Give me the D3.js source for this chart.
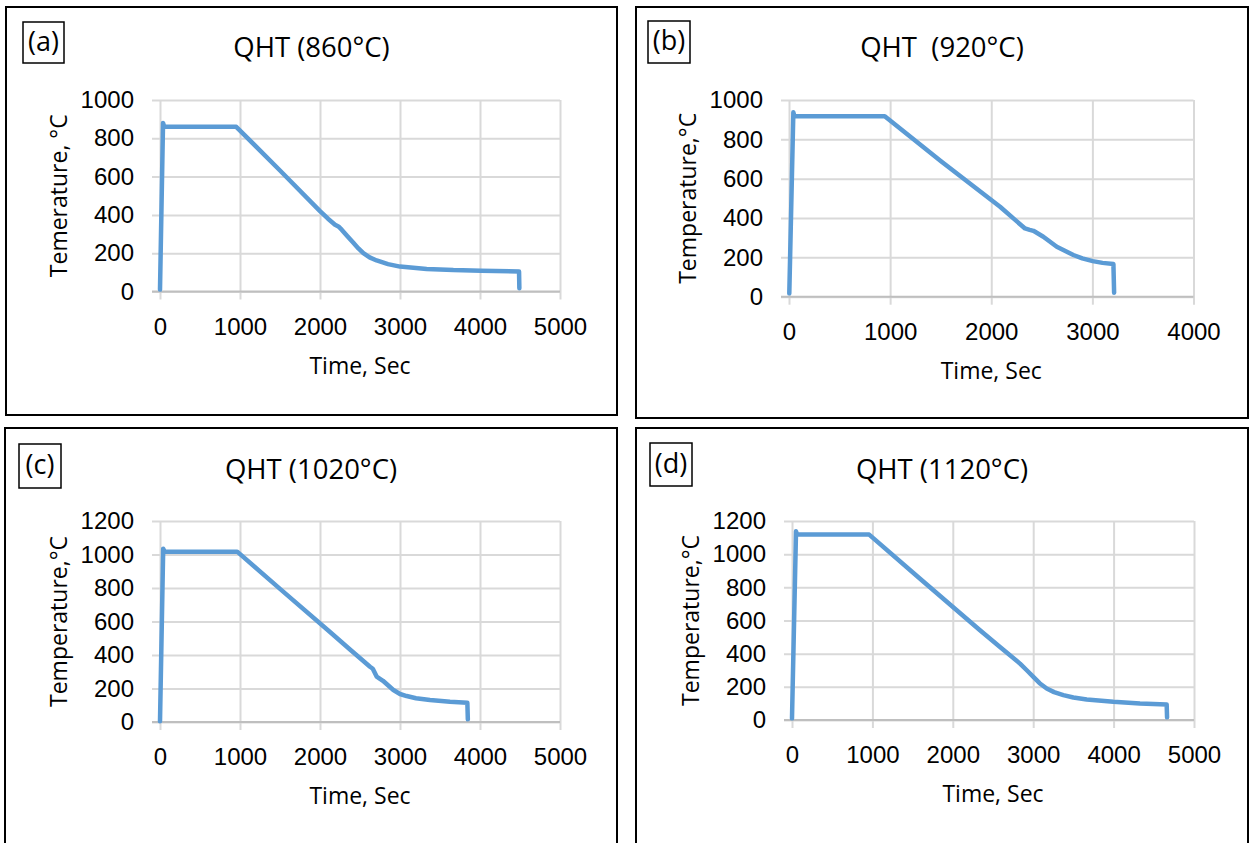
<!DOCTYPE html>
<html>
<head>
<meta charset="utf-8">
<script src="https://cdn.jsdelivr.net/npm/d3@7.9.0/dist/d3.min.js"></script>
<style>
  body { margin: 0; background: #fff; }
  svg { display: block; font-family: "Open Sans", "Noto Sans", sans-serif; }
  text { fill: #000; white-space: pre; }
</style>
</head>
<body>
<div id="chart"></div>
<script>
// panel texts
const panelLabels = ['(a)', '(b)', '(c)', '(d)'];
const panelTitles = ['QHT (860°C)', 'QHT  (920°C)', 'QHT (1020°C)', 'QHT (1120°C)'];
const yTitles = ['Temerature, °C', 'Temperature,°C', 'Temperature,°C', 'Temperature,°C'];
const xTitle = 'Time, Sec';

// axis ticks
const xTicks5000 = [0, 1000, 2000, 3000, 4000, 5000];
const xTicks4000 = [0, 1000, 2000, 3000, 4000];
const yTicks1000 = [0, 200, 400, 600, 800, 1000];
const yTicks1200 = [0, 200, 400, 600, 800, 1000, 1200];

// [time (s), temperature (°C)]
const curve860 = [[0, 10], [38, 880], [50, 865], [62, 860], [500, 860], [953, 860], [1500, 632], [2000, 420],
  [2100, 380], [2188, 349], [2230, 340], [2271, 323], [2340, 290], [2417, 254], [2480, 225], [2542, 200],
  [2620, 178], [2708, 162], [2850, 143], [3000, 130], [3333, 118], [3667, 112], [4013, 109], [4488, 104],
  [4492, 17]];
const curve920 = [[3, 17], [43, 938], [52, 920], [59, 917], [500, 917], [947, 917], [1500, 690], [2087, 457],
  [2219, 398], [2334, 347], [2380, 340], [2417, 335], [2515, 305], [2648, 254], [2812, 212], [2900, 195],
  [3004, 181], [3100, 172], [3208, 166], [3215, 20]];
const curve1020 = [[0, 5], [40, 1035], [55, 1020], [62, 1017], [500, 1017], [965, 1017], [1500, 795],
  [2125, 537], [2375, 433], [2560, 357], [2625, 330], [2660, 318], [2708, 271], [2787, 246], [2917, 191],
  [3000, 167], [3083, 155], [3200, 142], [3375, 131], [3625, 121], [3842, 115], [3848, 16]];
const curve1120 = [[0, 10], [50, 1138], [60, 1122], [70, 1118], [500, 1118], [960, 1118], [1600, 849],
  [2338, 541], [2587, 440], [2836, 340], [2920, 300], [3002, 260], [3080, 222], [3168, 190], [3260, 168],
  [3375, 150], [3500, 136], [3666, 124], [3997, 110], [4328, 100], [4660, 94], [4665, 16]];

const curves = [curve860, curve920, curve1020, curve1120];
const xTickSets = [xTicks5000, xTicks4000, xTicks5000, xTicks5000];
const yTickSets = [yTicks1000, yTicks1000, yTicks1200, yTicks1200];

// layout of each panel on the page
const frames = [
  { box: [6, 7, 617, 415], plot: [160, 560, 100, 291.5], tag: [23, 22, 41, 41], titleY: 57 },
  { box: [636, 7, 1248, 418], plot: [789, 1193.5, 100, 296.7], tag: [648, 21, 42, 42], titleY: 57 },
  { box: [5, 428, 617, 850], plot: [160, 560, 521, 722], tag: [19, 444, 42, 44], titleY: 479 },
  { box: [636, 428, 1248, 850], plot: [792, 1194, 521, 720], tag: [650, 443, 42, 43], titleY: 479 }
];

const width = 1250, height = 843;
const svg = d3.select('#chart').append('svg')
  .attr('width', width).attr('height', height)
  .attr('viewBox', `0 0 ${width} ${height}`);

svg.append('rect').attr('width', width).attr('height', height).attr('fill', '#fff');

frames.forEach((f, i) => {
  const [bx0, by0, bx1, by1] = f.box;
  const [left, right, top, bottom] = f.plot;
  const g = svg.append('g');

  // outer frame
  g.append('rect')
    .attr('x', bx0).attr('y', by0)
    .attr('width', bx1 - bx0).attr('height', by1 - by0)
    .attr('fill', 'none').attr('stroke', '#000').attr('stroke-width', 2);

  // label box
  const [tx, ty, tw, th] = f.tag;
  g.append('rect')
    .attr('x', tx).attr('y', ty).attr('width', tw).attr('height', th)
    .attr('fill', 'none').attr('stroke', '#000').attr('stroke-width', 1.5);
  g.append('text')
    .attr('x', tx + tw / 2).attr('y', ty + th / 2 + 8)
    .attr('text-anchor', 'middle')
    .style('font-size', '27px')
    .text(panelLabels[i]);

  // title, centred on the frame
  g.append('text')
    .attr('x', (bx0 + bx1) / 2).attr('y', f.titleY)
    .attr('text-anchor', 'middle')
    .style('font-size', '27.5px')
    .text(panelTitles[i]);

  const xTicks = xTickSets[i];
  const yTicks = yTickSets[i];
  const x = d3.scaleLinear().domain([0, d3.max(xTicks)]).range([left, right]);
  const y = d3.scaleLinear().domain([0, d3.max(yTicks)]).range([bottom, top]);

  // horizontal gridlines + outside ticks + labels
  const gy = g.append('g')
    .attr('transform', `translate(${right},0)`)
    .call(d3.axisLeft(y).tickValues(yTicks).tickFormat(d3.format('d'))
      .tickSize(right - left + 8).tickPadding(18));
  gy.select('.domain').remove();
  gy.selectAll('line').attr('stroke', '#d9d9d9').attr('stroke-width', 2);
  gy.selectAll('text').style('font-size', '24px').attr('fill', '#000');

  // vertical gridlines + outside ticks + labels
  const gx = g.append('g')
    .attr('transform', `translate(0,${top})`)
    .call(d3.axisBottom(x).tickValues(xTicks).tickFormat(d3.format('d'))
      .tickSize(bottom - top + 8).tickPadding(0));
  gx.select('.domain').remove();
  gx.selectAll('line').attr('stroke', '#d9d9d9').attr('stroke-width', 2);
  gx.selectAll('text')
    .style('font-size', '24px').attr('fill', '#000')
    .attr('dy', null)
    .attr('y', bottom - top + 43);

  // horizontal axis line
  g.append('line')
    .attr('x1', left - 8).attr('x2', right)
    .attr('y1', y(0)).attr('y2', y(0))
    .attr('stroke', '#bfbfbf').attr('stroke-width', 2);

  // axis titles
  g.append('text')
    .attr('x', (left + right) / 2).attr('y', bottom + 82)
    .attr('text-anchor', 'middle')
    .style('font-size', '23px')
    .text(xTitle);
  g.append('text')
    .attr('transform', `translate(${left - 93},${(top + bottom) / 2}) rotate(-90)`)
    .attr('text-anchor', 'middle')
    .style('font-size', '23px')
    .text(yTitles[i]);

  // the curve
  const line = d3.line().x(d => x(d[0])).y(d => y(d[1]));
  g.append('path')
    .datum(curves[i])
    .attr('d', line)
    .attr('fill', 'none')
    .attr('stroke', '#5b9bd5')
    .attr('stroke-width', 4.5)
    .attr('stroke-linejoin', 'round')
    .attr('stroke-linecap', 'round');
});
</script>
</body>
</html>
